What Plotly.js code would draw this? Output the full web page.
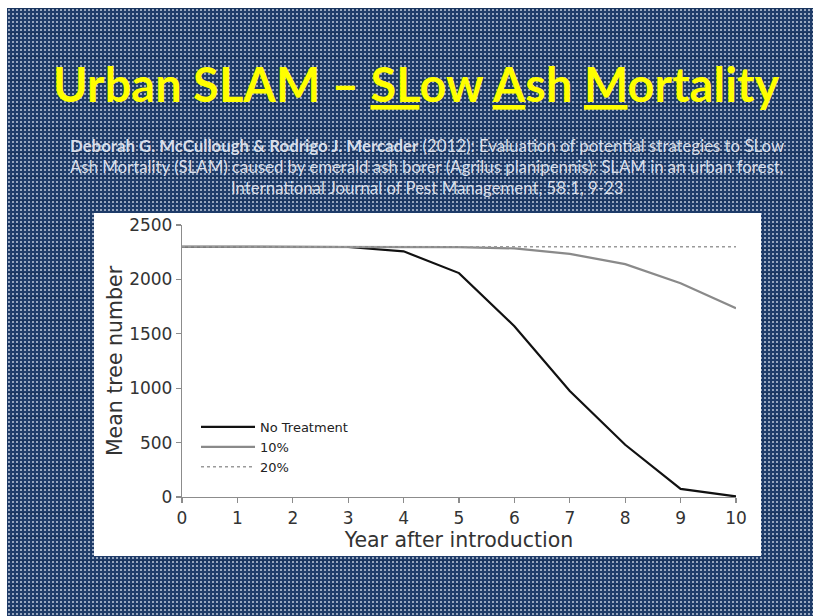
<!DOCTYPE html>
<html>
<head>
<meta charset="utf-8">
<script src="https://cdn.plot.ly/plotly-3.0.1.min.js"></script>
<style>
  html, body { margin: 0; padding: 0; background: #ffffff; }
  #slide {
    position: absolute; left: 7px; top: 8px; width: 806px; height: 608px;
    background-color: #1f3c69;
    background-image:
      radial-gradient(circle, rgba(235,240,250,0.6) 0.7px, rgba(0,0,0,0) 1.1px),
      linear-gradient(rgba(20,45,85,0.5) 2px, rgba(0,0,0,0) 2px);
    background-size: 4px 4px, 24px 24px;
  }
  #chart { position: absolute; left: 0; top: 0; width: 820px; height: 616px; }
</style>
</head>
<body>
<div id="slide"></div>
<div id="chart"></div>
<script>
// ---- data ----
var years = [0, 1, 2, 3, 4, 5, 6, 7, 8, 9, 10];
var noTreatment = [2300, 2300, 2300, 2298, 2258, 2058, 1570, 975, 480, 75, 5];
var treat10 = [2300, 2300, 2300, 2300, 2300, 2297, 2285, 2235, 2140, 1965, 1735];
var treat20 = [2300, 2300, 2300, 2300, 2300, 2300, 2300, 2300, 2300, 2300, 2300];
var seriesNames = ['No Treatment', '10%', '20%'];
var xTicks = [0, 1, 2, 3, 4, 5, 6, 7, 8, 9, 10];
var yTicks = [0, 500, 1000, 1500, 2000, 2500];
var titleText = '<b>Urban SLAM – <u>SL</u>ow <u>A</u>sh <u>M</u>ortality</b>';
var citeLines = [
  '<b>Deborah G. McCullough &amp; Rodrigo J. Mercader</b> (2012): Evaluation of potential strategies to SLow',
  'Ash Mortality (SLAM) caused by emerald ash borer (Agrilus planipennis): SLAM in an urban forest,',
  'International Journal of Pest Management, 58:1, 9-23'
];

// ---- layout geometry (pixels) ----
var W = 820, H = 616;
var L = 182, R = 736, T = 225, B = 497;
function px(x) { return (x - L) / (R - L); }
function py(y) { return (B - y) / (B - T); }

var traces = [
  { x: years, y: noTreatment, name: seriesNames[0], type: 'scatter', mode: 'lines',
    line: { color: '#111111', width: 2.2 } },
  { x: years, y: treat10, name: seriesNames[1], type: 'scatter', mode: 'lines',
    line: { color: '#8a8a8a', width: 2.2 } },
  { x: years, y: treat20, name: seriesNames[2], type: 'scatter', mode: 'lines',
    line: { color: '#9a9a9a', width: 1.6, dash: 'dot' } }
];

var tickFont = { family: 'DejaVu Sans', size: 17, color: '#333333' };
var titleFont = { family: 'DejaVu Sans', size: 20.5, color: '#333333' };
var layout = {
  width: W, height: H,
  margin: { l: L, r: W - R, t: T, b: H - B, pad: 0 },
  paper_bgcolor: 'rgba(0,0,0,0)',
  plot_bgcolor: '#ffffff',
  showlegend: true,
  legend: {
    x: px(196), y: py(412), xanchor: 'left', yanchor: 'top',
    bgcolor: 'rgba(0,0,0,0)', borderwidth: 0,
    font: { family: 'DejaVu Sans', size: 13, color: '#222222' },
    itemwidth: 54, tracegroupgap: 0
  },
  xaxis: {
    range: [0, 10], tickvals: xTicks, ticktext: xTicks.map(String),
    showgrid: false, zeroline: false, showline: true, linecolor: '#8c8c8c', linewidth: 1.2,
    ticks: 'outside', ticklen: 5, tickcolor: '#8c8c8c', tickwidth: 1.2,
    tickfont: tickFont, fixedrange: true,
    title: { text: 'Year after introduction', font: titleFont, standoff: 6 }
  },
  yaxis: {
    range: [0, 2500], tickvals: yTicks, ticktext: yTicks.map(String),
    showgrid: false, zeroline: false, showline: true, linecolor: '#8c8c8c', linewidth: 1.2,
    ticks: 'outside', ticklen: 5, tickcolor: '#8c8c8c', tickwidth: 1.2,
    tickfont: tickFont, fixedrange: true,
    title: { text: 'Mean tree number', font: titleFont, standoff: 1 }
  },
  shapes: [
    { type: 'rect', xref: 'paper', yref: 'paper', layer: 'below',
      x0: px(94), x1: px(761), y0: py(556), y1: py(213),
      fillcolor: '#ffffff', line: { width: 0 } }
  ],
  annotations: [
    { text: titleText, xref: 'paper', yref: 'paper', x: px(416), y: py(84),
      xanchor: 'center', yanchor: 'middle', showarrow: false,
      font: { family: 'Lato', size: 47, color: '#ffff00' } },
    { text: citeLines[0], xref: 'paper', yref: 'paper', x: px(427), y: py(145),
      xanchor: 'center', yanchor: 'middle', showarrow: false,
      font: { family: 'Lato', size: 16.8, color: '#d9dfea' } },
    { text: citeLines[1], xref: 'paper', yref: 'paper', x: px(427), y: py(166),
      xanchor: 'center', yanchor: 'middle', showarrow: false,
      font: { family: 'Lato', size: 16.8, color: '#d9dfea' } },
    { text: citeLines[2], xref: 'paper', yref: 'paper', x: px(427), y: py(187),
      xanchor: 'center', yanchor: 'middle', showarrow: false,
      font: { family: 'Lato', size: 16.8, color: '#d9dfea' } }
  ]
};

Plotly.newPlot('chart', traces, layout, { displayModeBar: false, staticPlot: true });
</script>
</body>
</html>
